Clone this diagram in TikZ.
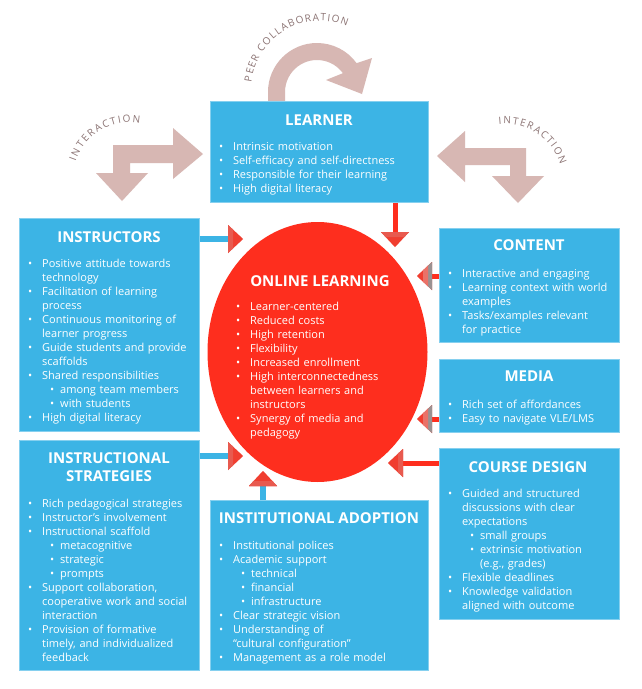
\documentclass[tikz,border=0pt]{standalone}
\usepackage{fontspec}
\setmainfont{Open Sans}
\usetikzlibrary{arrows.meta,decorations.text,shapes.geometric}
\definecolor{boxblue}{HTML}{3CB4E5}
\definecolor{boxedge}{HTML}{86D0EF}
\definecolor{olred}{HTML}{FE2E1E}
\definecolor{tipred}{HTML}{F03E30}
\definecolor{tiplight}{HTML}{E85A4F}
\definecolor{tippink}{HTML}{EA7268}
\definecolor{tipgrey}{HTML}{9A9292}
\definecolor{pinkarrow}{HTML}{D7B7B3}
\definecolor{labelgrey}{HTML}{8C7474}
\newcommand\itm[1]{\par\noindent\hangindent=0pt\strut\llap{\makebox[12pt][l]{\makebox[0pt]{\textbullet}}}#1}
\newcommand\sitm[1]{\par\noindent\hangindent=18pt\strut\hspace*{18pt}\llap{\makebox[8pt][l]{\makebox[0pt]{\textbullet}}}#1}
\tikzset{
  bx/.style={draw=boxedge, line width=0.8pt, fill=boxblue, rectangle, anchor=north west, inner sep=0pt},
  ttl/.style={anchor=base, inner sep=0pt, text=white, font=\fontsize{15}{17}\selectfont\bfseries},
  lst/.style={anchor=north west, yshift=9.8pt, inner sep=0pt, text=white, text width=#1, align=left, font=\fontsize{11}{14}\selectfont},
  lst/.default=170pt,
  blueconn/.style={draw=boxblue, line width=5.5pt, -{Triangle[length=15pt,width=28pt,line width=0.01pt,fill=tipred,color=tipred]}},
  redconn/.style={draw=olred, line width=5pt, -{Triangle[length=15pt,width=28pt,line width=0.01pt,fill=tipred,color=tipred]}},
  arclabel/.style={decorate, decoration={text along path, text align=fit to path, text={|\fontsize{10}{12}\selectfont\color{labelgrey}|#1}}}
}
\begin{document}
\begin{tikzpicture}[x=1pt,y=-1pt]
\useasboundingbox (0,0) rectangle (641,689);
\fill[white] (0,0) rectangle (641,689);

% pink interaction arrows
\fill[pinkarrow] (113,145) -- (173,145) -- (173,128) -- (203,154) -- (173,179) -- (173,163) -- (130,163) -- (130,173) -- (148,173) -- (122,201) -- (96,173) -- (113,173) -- cycle;
\fill[pinkarrow] (437,156) -- (465,131) -- (465,148) -- (526,148) -- (526,176) -- (544,176) -- (518,203) -- (492,176) -- (510,176) -- (510,165) -- (465,165) -- (465,182) -- cycle;
% peer collaboration arc arrow
\fill[pinkarrow] (268,102) -- (268,92) arc[start angle=180, end angle=324, radius=49] -- (372,58) -- (362,94) -- (326,80) -- (342.9,73.2) arc[start angle=324, end angle=180, radius=32] -- (285,102) -- cycle;

% curved labels
\path[arclabel={PEER COLLABORATION}] (320,90) ++(-173.4:69) arc[start angle=-173.4, end angle=-67, radius=69];
\path[arclabel={INTERACTION}] (130,180) ++(-161:57.5) arc[start angle=-161, end angle=-80, radius=57.5];
\path[arclabel={INTERACTION}] (505,182) ++(-96:58) arc[start angle=-96, end angle=-17.5, radius=58];

% central ellipse
\node[ellipse, fill=olred, minimum width=220pt, minimum height=260pt, inner sep=0pt] (ol) at (317.5,352) {};

% boxes
\node[bx, minimum width=218pt, minimum height=101pt] (learner) at (210,101) {};
\node[bx, minimum width=180pt, minimum height=213pt] (instr) at (19,218) {};
\node[bx, minimum width=180pt, minimum height=230pt] (strat) at (19,440) {};
\node[bx, minimum width=218pt, minimum height=170pt] (inst) at (210,500) {};
\node[bx, minimum width=180pt, minimum height=114pt] (content) at (439,228) {};
\node[bx, minimum width=180pt, minimum height=73pt] (media) at (439,359) {};
\node[bx, minimum width=180pt, minimum height=171pt] (course) at (439,448) {};

% connectors
\coordinate (t1) at (243,239);
\coordinate (t2) at (243,456);
\coordinate (t3) at (263,471);
\coordinate (t4) at (395,247);
\coordinate (t5) at (417,276);
\coordinate (t6) at (417,419);
\coordinate (t7) at (388,463);
\draw[blueconn] (instr.east |- t1) -- (t1);
\draw[blueconn] (strat.east |- t2) -- (t2);
\draw[blueconn] (inst.north -| t3) -- (t3);
\draw[redconn] (learner.south -| t4) -- (t4);
\draw[redconn] (content.west |- t5) -- (t5);
\draw[redconn] (media.west |- t6) -- (t6);
\draw[redconn] (course.west |- t7) -- (t7);
% two-tone bands at the base of the arrowheads
\fill[tiplight] (228,225) -- (233,229.67) -- (233,248.33) -- (228,253) -- cycle;
\fill[tiplight] (228,442) -- (233,446.67) -- (233,465.33) -- (228,470) -- cycle;
\fill[tiplight] (249,486) -- (253.67,481) -- (272.33,481) -- (277,486) -- cycle;
\fill[tiplight] (381,232) -- (385.67,237) -- (404.33,237) -- (409,232) -- cycle;
\fill[tiplight] (403,449) -- (398,453.67) -- (398,472.33) -- (403,477) -- cycle;
\fill[tipgrey] (432,262) -- (428,265.73) -- (428,286.27) -- (432,290) -- cycle;
\fill[tippink] (428,265.73) -- (423,270.4) -- (423,281.6) -- (428,286.27) -- cycle;
\fill[tipgrey] (432,405) -- (428,408.73) -- (428,429.27) -- (432,433) -- cycle;
\fill[tippink] (428,408.73) -- (423,413.4) -- (423,424.6) -- (428,429.27) -- cycle;

% titles
\node[ttl] (learnerT) at (319,125) {LEARNER};
\node[ttl] (instrT) at (109,242.3) {INSTRUCTORS};
\node[ttl] (stratT1) at (109,463.5) {INSTRUCTIONAL};
\node[ttl] (stratT2) at (109,481) {STRATEGIES};
\node[ttl] (instT) at (319,523.3) {INSTITUTIONAL ADOPTION};
\node[ttl] (olT) at (320,286) {ONLINE LEARNING};
\node[ttl] (contentT) at (529,250.7) {CONTENT};
\node[ttl] (mediaT) at (529,381.7) {MEDIA};
\node[ttl] (courseT) at (528,472.3) {COURSE DESIGN};

% lists
\node[lst=190pt] (learnerL) at (233,146) {\itm{Intrinsic motivation}\itm{Self-efficacy and self-directness}\itm{Responsible for their learning}\itm{High digital literacy}};
\node[lst=155pt] (instrL) at (42,263) {\itm{Positive attitude towards\newline technology}\itm{Facilitation of learning\newline process}\itm{Continuous monitoring of\newline learner progress}\itm{Guide students and provide\newline scaffolds}\itm{Shared responsibilities}\sitm{among team members}\sitm{with students}\itm{High digital literacy}};
\node[lst=160pt] (olL) at (250,306) {\itm{Learner-centered}\itm{Reduced costs}\itm{High retention}\itm{Flexibility}\itm{Increased enrollment}\itm{High interconnectedness\newline between learners and\newline instructors}\itm{Synergy of media and\newline pedagogy}};
\node[lst=155pt] (contentL) at (462,273) {\itm{Interactive and engaging}\itm{Learning context with world\newline examples}\itm{Tasks/examples relevant\newline for practice}};
\node[lst=155pt] (mediaL) at (462,404) {\itm{Rich set of affordances}\itm{Easy to navigate VLE/LMS}};
\node[lst=155pt] (courseL) at (462,493) {\itm{Guided and structured\newline discussions with clear\newline expectations}\sitm{small groups}\sitm{extrinsic motivation\newline (e.g., grades)}\itm{Flexible deadlines}\itm{Knowledge validation\newline aligned with outcome}};
\node[lst=155pt] (stratL) at (42,503) {\itm{Rich pedagogical strategies}\itm{Instructor’s involvement}\itm{Instructional scaffold}\sitm{metacognitive}\sitm{strategic}\sitm{prompts}\itm{Support collaboration,\newline cooperative work and social\newline interaction}\itm{Provision of formative\newline timely, and individualized\newline feedback}};
\node[lst=190pt] (instL) at (233,545) {\itm{Institutional polices}\itm{Academic support}\sitm{technical}\sitm{financial}\sitm{infrastructure}\itm{Clear strategic vision}\itm{Understanding of\newline “cultural configuration”}\itm{Management as a role model}};
\end{tikzpicture}
\end{document}
